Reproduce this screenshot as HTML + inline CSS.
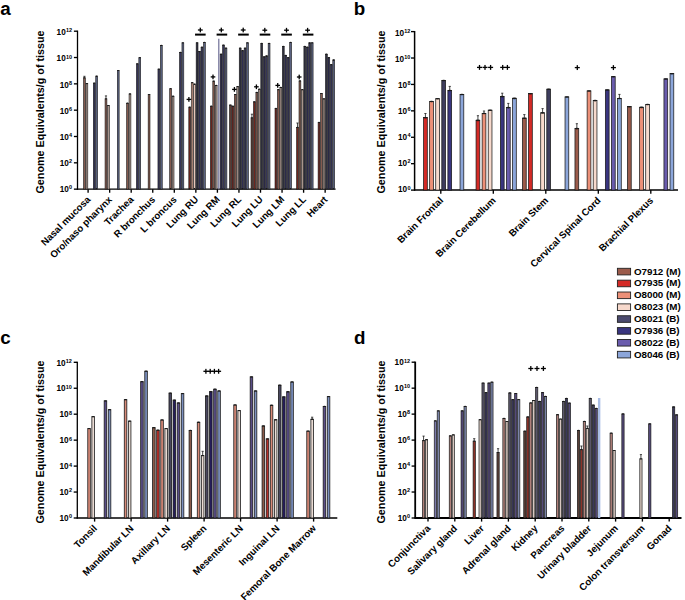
<!DOCTYPE html><html><head><meta charset="utf-8"><style>html,body{margin:0;padding:0;background:#fff;width:685px;height:600px;overflow:hidden}svg{display:block}text{font-family:"Liberation Sans",sans-serif;font-weight:bold;fill:#000}</style></head><body>
<svg width="685" height="600" viewBox="0 0 685 600">
<rect x="0" y="0" width="685" height="600" fill="#fff"/>
<text x="0.20" y="14.60" font-size="18.8" text-anchor="start" >a</text>
<text x="353.80" y="14.50" font-size="18.8" text-anchor="start" >b</text>
<text x="0.25" y="344.10" font-size="18.8" text-anchor="start" >c</text>
<text x="353.90" y="344.10" font-size="18.8" text-anchor="start" >d</text>
<line x1="77.50" y1="30.60" x2="77.50" y2="189.75" stroke="#000" stroke-width="1.3"/>
<line x1="76.90" y1="189.15" x2="335.60" y2="189.15" stroke="#000" stroke-width="1.3"/>
<line x1="73.90" y1="189.15" x2="77.50" y2="189.15" stroke="#000" stroke-width="1.35"/>
<text x="72.15" y="189.15" font-size="5.5" text-anchor="end">0</text>
<text x="68.79" y="192.05" font-size="8.2" text-anchor="end">10</text>
<line x1="73.90" y1="162.82" x2="77.50" y2="162.82" stroke="#000" stroke-width="1.35"/>
<text x="72.15" y="163.03" font-size="5.5" text-anchor="end">2</text>
<text x="68.79" y="165.93" font-size="8.2" text-anchor="end">10</text>
<line x1="73.90" y1="136.50" x2="77.50" y2="136.50" stroke="#000" stroke-width="1.35"/>
<text x="72.15" y="136.92" font-size="5.5" text-anchor="end">4</text>
<text x="68.79" y="139.82" font-size="8.2" text-anchor="end">10</text>
<line x1="73.90" y1="110.17" x2="77.50" y2="110.17" stroke="#000" stroke-width="1.35"/>
<text x="72.15" y="110.80" font-size="5.5" text-anchor="end">6</text>
<text x="68.79" y="113.70" font-size="8.2" text-anchor="end">10</text>
<line x1="73.90" y1="83.85" x2="77.50" y2="83.85" stroke="#000" stroke-width="1.35"/>
<text x="72.15" y="84.68" font-size="5.5" text-anchor="end">8</text>
<text x="68.79" y="87.58" font-size="8.2" text-anchor="end">10</text>
<line x1="73.90" y1="57.52" x2="77.50" y2="57.52" stroke="#000" stroke-width="1.35"/>
<text x="72.15" y="58.57" font-size="5.5" text-anchor="end">10</text>
<text x="65.73" y="61.47" font-size="8.2" text-anchor="end">10</text>
<line x1="73.90" y1="31.20" x2="77.50" y2="31.20" stroke="#000" stroke-width="1.35"/>
<text x="72.15" y="32.45" font-size="5.5" text-anchor="end">12</text>
<text x="65.73" y="35.35" font-size="8.2" text-anchor="end">10</text>
<line x1="88.10" y1="189.15" x2="88.10" y2="192.75" stroke="#000" stroke-width="1.35"/>
<line x1="109.65" y1="189.15" x2="109.65" y2="192.75" stroke="#000" stroke-width="1.35"/>
<line x1="131.20" y1="189.15" x2="131.20" y2="192.75" stroke="#000" stroke-width="1.35"/>
<line x1="152.75" y1="189.15" x2="152.75" y2="192.75" stroke="#000" stroke-width="1.35"/>
<line x1="174.30" y1="189.15" x2="174.30" y2="192.75" stroke="#000" stroke-width="1.35"/>
<line x1="195.85" y1="189.15" x2="195.85" y2="192.75" stroke="#000" stroke-width="1.35"/>
<line x1="217.40" y1="189.15" x2="217.40" y2="192.75" stroke="#000" stroke-width="1.35"/>
<line x1="238.95" y1="189.15" x2="238.95" y2="192.75" stroke="#000" stroke-width="1.35"/>
<line x1="260.50" y1="189.15" x2="260.50" y2="192.75" stroke="#000" stroke-width="1.35"/>
<line x1="282.05" y1="189.15" x2="282.05" y2="192.75" stroke="#000" stroke-width="1.35"/>
<line x1="303.60" y1="189.15" x2="303.60" y2="192.75" stroke="#000" stroke-width="1.35"/>
<line x1="325.15" y1="189.15" x2="325.15" y2="192.75" stroke="#000" stroke-width="1.35"/>
<text transform="translate(43.80,112.00) rotate(-90)" x="0" y="0" font-size="10.75" text-anchor="middle">Genome Equivalents/g of tissue</text>
<text transform="translate(91.10,200.15) rotate(-45)" x="0" y="0" font-size="9.7" text-anchor="end">Nasal mucosa</text>
<text transform="translate(112.65,200.15) rotate(-45)" x="0" y="0" font-size="9.7" text-anchor="end">Oro/naso pharynx</text>
<text transform="translate(134.20,200.15) rotate(-45)" x="0" y="0" font-size="9.7" text-anchor="end">Trachea</text>
<text transform="translate(155.75,200.15) rotate(-45)" x="0" y="0" font-size="9.7" text-anchor="end">R bronchus</text>
<text transform="translate(177.30,200.15) rotate(-45)" x="0" y="0" font-size="9.7" text-anchor="end">L broncus</text>
<text transform="translate(198.85,200.15) rotate(-45)" x="0" y="0" font-size="9.7" text-anchor="end">Lung RU</text>
<text transform="translate(220.40,200.15) rotate(-45)" x="0" y="0" font-size="9.7" text-anchor="end">Lung RM</text>
<text transform="translate(241.95,200.15) rotate(-45)" x="0" y="0" font-size="9.7" text-anchor="end">Lung RL</text>
<text transform="translate(263.50,200.15) rotate(-45)" x="0" y="0" font-size="9.7" text-anchor="end">Lung LU</text>
<text transform="translate(285.05,200.15) rotate(-45)" x="0" y="0" font-size="9.7" text-anchor="end">Lung LM</text>
<text transform="translate(306.60,200.15) rotate(-45)" x="0" y="0" font-size="9.7" text-anchor="end">Lung LL</text>
<text transform="translate(328.15,200.15) rotate(-45)" x="0" y="0" font-size="9.7" text-anchor="end">Heart</text>
<line x1="84.42" y1="76.30" x2="84.42" y2="77.50" stroke="#1a1a1a" stroke-width="0.8"/>
<line x1="83.33" y1="76.30" x2="85.52" y2="76.30" stroke="#1a1a1a" stroke-width="0.8"/>
<rect x="83.50" y="77.80" width="1.85" height="111.35" fill="#845a4e" stroke="#1a1a1a" stroke-width="0.6"/>
<rect x="83.25" y="77.20" width="2.35" height="1.20" rx="1.18" ry="0.60" fill="#1a1a1a"/>
<rect x="85.95" y="83.60" width="1.85" height="105.55" fill="#a8948c" stroke="#1a1a1a" stroke-width="0.6"/>
<rect x="85.70" y="83.00" width="2.35" height="1.20" rx="1.18" ry="0.60" fill="#1a1a1a"/>
<rect x="93.30" y="83.10" width="1.85" height="106.05" fill="#363558" stroke="#1a1a1a" stroke-width="0.6"/>
<rect x="93.05" y="82.50" width="2.35" height="1.20" rx="1.18" ry="0.60" fill="#1a1a1a"/>
<rect x="95.75" y="76.10" width="1.85" height="113.05" fill="#5a6280" stroke="#1a1a1a" stroke-width="0.6"/>
<rect x="95.50" y="75.50" width="2.35" height="1.20" rx="1.18" ry="0.60" fill="#1a1a1a"/>
<line x1="105.97" y1="95.90" x2="105.97" y2="98.50" stroke="#1a1a1a" stroke-width="0.8"/>
<line x1="104.88" y1="95.90" x2="107.07" y2="95.90" stroke="#1a1a1a" stroke-width="0.8"/>
<rect x="105.05" y="98.80" width="1.85" height="90.35" fill="#845a4e" stroke="#1a1a1a" stroke-width="0.6"/>
<rect x="104.80" y="98.20" width="2.35" height="1.20" rx="1.18" ry="0.60" fill="#1a1a1a"/>
<rect x="107.50" y="105.50" width="1.85" height="83.65" fill="#a8948c" stroke="#1a1a1a" stroke-width="0.6"/>
<rect x="107.25" y="104.90" width="2.35" height="1.20" rx="1.18" ry="0.60" fill="#1a1a1a"/>
<rect x="117.30" y="70.50" width="1.85" height="118.65" fill="#5a6280" stroke="#1a1a1a" stroke-width="0.6"/>
<rect x="117.05" y="69.90" width="2.35" height="1.20" rx="1.18" ry="0.60" fill="#1a1a1a"/>
<rect x="126.60" y="103.20" width="1.85" height="85.95" fill="#845a4e" stroke="#1a1a1a" stroke-width="0.6"/>
<rect x="126.35" y="102.60" width="2.35" height="1.20" rx="1.18" ry="0.60" fill="#1a1a1a"/>
<rect x="129.05" y="93.90" width="1.85" height="95.25" fill="#a8948c" stroke="#1a1a1a" stroke-width="0.6"/>
<rect x="128.80" y="93.30" width="2.35" height="1.20" rx="1.18" ry="0.60" fill="#1a1a1a"/>
<rect x="136.40" y="63.80" width="1.85" height="125.35" fill="#363558" stroke="#1a1a1a" stroke-width="0.6"/>
<rect x="136.15" y="63.20" width="2.35" height="1.20" rx="1.18" ry="0.60" fill="#1a1a1a"/>
<rect x="138.85" y="57.70" width="1.85" height="131.45" fill="#5a6280" stroke="#1a1a1a" stroke-width="0.6"/>
<rect x="138.60" y="57.10" width="2.35" height="1.20" rx="1.18" ry="0.60" fill="#1a1a1a"/>
<rect x="148.15" y="94.50" width="1.85" height="94.65" fill="#845a4e" stroke="#1a1a1a" stroke-width="0.6"/>
<rect x="147.90" y="93.90" width="2.35" height="1.20" rx="1.18" ry="0.60" fill="#1a1a1a"/>
<rect x="157.95" y="69.10" width="1.85" height="120.05" fill="#363558" stroke="#1a1a1a" stroke-width="0.6"/>
<rect x="157.70" y="68.50" width="2.35" height="1.20" rx="1.18" ry="0.60" fill="#1a1a1a"/>
<rect x="160.40" y="45.40" width="1.85" height="143.75" fill="#5a6280" stroke="#1a1a1a" stroke-width="0.6"/>
<rect x="160.15" y="44.80" width="2.35" height="1.20" rx="1.18" ry="0.60" fill="#1a1a1a"/>
<rect x="169.70" y="88.70" width="1.85" height="100.45" fill="#845a4e" stroke="#1a1a1a" stroke-width="0.6"/>
<rect x="169.45" y="88.10" width="2.35" height="1.20" rx="1.18" ry="0.60" fill="#1a1a1a"/>
<rect x="172.15" y="96.20" width="1.85" height="92.95" fill="#a8948c" stroke="#1a1a1a" stroke-width="0.6"/>
<rect x="171.90" y="95.60" width="2.35" height="1.20" rx="1.18" ry="0.60" fill="#1a1a1a"/>
<rect x="179.50" y="52.40" width="1.85" height="136.75" fill="#363558" stroke="#1a1a1a" stroke-width="0.6"/>
<rect x="179.25" y="51.80" width="2.35" height="1.20" rx="1.18" ry="0.60" fill="#1a1a1a"/>
<rect x="181.95" y="42.80" width="1.85" height="146.35" fill="#5a6280" stroke="#1a1a1a" stroke-width="0.6"/>
<rect x="181.70" y="42.20" width="2.35" height="1.20" rx="1.18" ry="0.60" fill="#1a1a1a"/>
<rect x="188.80" y="107.10" width="1.85" height="82.05" fill="#6e261e" stroke="#1a1a1a" stroke-width="0.6"/>
<rect x="188.55" y="106.50" width="2.35" height="1.20" rx="1.18" ry="0.60" fill="#1a1a1a"/>
<rect x="191.25" y="82.70" width="1.85" height="106.45" fill="#c89888" stroke="#1a1a1a" stroke-width="0.6"/>
<rect x="191.00" y="82.10" width="2.35" height="1.20" rx="1.18" ry="0.60" fill="#1a1a1a"/>
<rect x="193.70" y="84.10" width="1.85" height="105.05" fill="#e6c6ba" stroke="#1a1a1a" stroke-width="0.6"/>
<rect x="193.45" y="83.50" width="2.35" height="1.20" rx="1.18" ry="0.60" fill="#1a1a1a"/>
<rect x="196.15" y="42.80" width="1.85" height="146.35" fill="#303040" stroke="#1a1a1a" stroke-width="0.6"/>
<rect x="195.90" y="42.20" width="2.35" height="1.20" rx="1.18" ry="0.60" fill="#1a1a1a"/>
<rect x="198.60" y="51.60" width="1.85" height="137.55" fill="#2f2e52" stroke="#1a1a1a" stroke-width="0.6"/>
<rect x="198.35" y="51.00" width="2.35" height="1.20" rx="1.18" ry="0.60" fill="#1a1a1a"/>
<rect x="201.05" y="47.20" width="1.85" height="141.95" fill="#363558" stroke="#1a1a1a" stroke-width="0.6"/>
<rect x="200.80" y="46.60" width="2.35" height="1.20" rx="1.18" ry="0.60" fill="#1a1a1a"/>
<rect x="203.50" y="42.30" width="1.85" height="146.85" fill="#5a6280" stroke="#1a1a1a" stroke-width="0.6"/>
<rect x="203.25" y="41.70" width="2.35" height="1.20" rx="1.18" ry="0.60" fill="#1a1a1a"/>
<rect x="210.35" y="106.20" width="1.85" height="82.95" fill="#6e261e" stroke="#1a1a1a" stroke-width="0.6"/>
<rect x="210.10" y="105.60" width="2.35" height="1.20" rx="1.18" ry="0.60" fill="#1a1a1a"/>
<rect x="212.80" y="81.00" width="1.85" height="108.15" fill="#845a4e" stroke="#1a1a1a" stroke-width="0.6"/>
<rect x="212.55" y="80.40" width="2.35" height="1.20" rx="1.18" ry="0.60" fill="#1a1a1a"/>
<rect x="215.25" y="85.40" width="1.85" height="103.75" fill="#a8948c" stroke="#1a1a1a" stroke-width="0.6"/>
<rect x="215.00" y="84.80" width="2.35" height="1.20" rx="1.18" ry="0.60" fill="#1a1a1a"/>
<rect x="220.15" y="54.20" width="1.85" height="134.95" fill="#2f2e52" stroke="#1a1a1a" stroke-width="0.6"/>
<rect x="219.90" y="53.60" width="2.35" height="1.20" rx="1.18" ry="0.60" fill="#1a1a1a"/>
<rect x="222.60" y="45.10" width="1.85" height="144.05" fill="#363558" stroke="#1a1a1a" stroke-width="0.6"/>
<rect x="222.35" y="44.50" width="2.35" height="1.20" rx="1.18" ry="0.60" fill="#1a1a1a"/>
<rect x="225.05" y="48.10" width="1.85" height="141.05" fill="#5a6280" stroke="#1a1a1a" stroke-width="0.6"/>
<rect x="224.80" y="47.50" width="2.35" height="1.20" rx="1.18" ry="0.60" fill="#1a1a1a"/>
<rect x="229.45" y="105.00" width="1.85" height="84.15" fill="#5a3c34" stroke="#1a1a1a" stroke-width="0.6"/>
<rect x="229.20" y="104.40" width="2.35" height="1.20" rx="1.18" ry="0.60" fill="#1a1a1a"/>
<rect x="231.90" y="106.20" width="1.85" height="82.95" fill="#6e261e" stroke="#1a1a1a" stroke-width="0.6"/>
<rect x="231.65" y="105.60" width="2.35" height="1.20" rx="1.18" ry="0.60" fill="#1a1a1a"/>
<rect x="234.35" y="94.50" width="1.85" height="94.65" fill="#845a4e" stroke="#1a1a1a" stroke-width="0.6"/>
<rect x="234.10" y="93.90" width="2.35" height="1.20" rx="1.18" ry="0.60" fill="#1a1a1a"/>
<rect x="236.80" y="86.60" width="1.85" height="102.55" fill="#a8948c" stroke="#1a1a1a" stroke-width="0.6"/>
<rect x="236.55" y="86.00" width="2.35" height="1.20" rx="1.18" ry="0.60" fill="#1a1a1a"/>
<rect x="239.25" y="48.10" width="1.85" height="141.05" fill="#303040" stroke="#1a1a1a" stroke-width="0.6"/>
<rect x="239.00" y="47.50" width="2.35" height="1.20" rx="1.18" ry="0.60" fill="#1a1a1a"/>
<rect x="241.70" y="50.70" width="1.85" height="138.45" fill="#2f2e52" stroke="#1a1a1a" stroke-width="0.6"/>
<rect x="241.45" y="50.10" width="2.35" height="1.20" rx="1.18" ry="0.60" fill="#1a1a1a"/>
<rect x="244.15" y="48.10" width="1.85" height="141.05" fill="#363558" stroke="#1a1a1a" stroke-width="0.6"/>
<rect x="243.90" y="47.50" width="2.35" height="1.20" rx="1.18" ry="0.60" fill="#1a1a1a"/>
<rect x="246.60" y="42.80" width="1.85" height="146.35" fill="#5a6280" stroke="#1a1a1a" stroke-width="0.6"/>
<rect x="246.35" y="42.20" width="2.35" height="1.20" rx="1.18" ry="0.60" fill="#1a1a1a"/>
<line x1="251.92" y1="114.20" x2="251.92" y2="117.50" stroke="#1a1a1a" stroke-width="0.8"/>
<line x1="250.82" y1="114.20" x2="253.02" y2="114.20" stroke="#1a1a1a" stroke-width="0.8"/>
<rect x="251.00" y="117.80" width="1.85" height="71.35" fill="#5a3c34" stroke="#1a1a1a" stroke-width="0.6"/>
<rect x="250.75" y="117.20" width="2.35" height="1.20" rx="1.18" ry="0.60" fill="#1a1a1a"/>
<rect x="253.45" y="101.80" width="1.85" height="87.35" fill="#6e261e" stroke="#1a1a1a" stroke-width="0.6"/>
<rect x="253.20" y="101.20" width="2.35" height="1.20" rx="1.18" ry="0.60" fill="#1a1a1a"/>
<rect x="255.90" y="92.30" width="1.85" height="96.85" fill="#845a4e" stroke="#1a1a1a" stroke-width="0.6"/>
<rect x="255.65" y="91.70" width="2.35" height="1.20" rx="1.18" ry="0.60" fill="#1a1a1a"/>
<rect x="258.35" y="89.20" width="1.85" height="99.95" fill="#a8948c" stroke="#1a1a1a" stroke-width="0.6"/>
<rect x="258.10" y="88.60" width="2.35" height="1.20" rx="1.18" ry="0.60" fill="#1a1a1a"/>
<rect x="260.80" y="43.30" width="1.85" height="145.85" fill="#303040" stroke="#1a1a1a" stroke-width="0.6"/>
<rect x="260.55" y="42.70" width="2.35" height="1.20" rx="1.18" ry="0.60" fill="#1a1a1a"/>
<rect x="263.25" y="56.80" width="1.85" height="132.35" fill="#2f2e52" stroke="#1a1a1a" stroke-width="0.6"/>
<rect x="263.00" y="56.20" width="2.35" height="1.20" rx="1.18" ry="0.60" fill="#1a1a1a"/>
<rect x="265.70" y="55.90" width="1.85" height="133.25" fill="#363558" stroke="#1a1a1a" stroke-width="0.6"/>
<rect x="265.45" y="55.30" width="2.35" height="1.20" rx="1.18" ry="0.60" fill="#1a1a1a"/>
<rect x="268.15" y="43.30" width="1.85" height="145.85" fill="#5a6280" stroke="#1a1a1a" stroke-width="0.6"/>
<rect x="267.90" y="42.70" width="2.35" height="1.20" rx="1.18" ry="0.60" fill="#1a1a1a"/>
<rect x="275.00" y="108.30" width="1.85" height="80.85" fill="#6e261e" stroke="#1a1a1a" stroke-width="0.6"/>
<rect x="274.75" y="107.70" width="2.35" height="1.20" rx="1.18" ry="0.60" fill="#1a1a1a"/>
<rect x="277.45" y="89.70" width="1.85" height="99.45" fill="#845a4e" stroke="#1a1a1a" stroke-width="0.6"/>
<rect x="277.20" y="89.10" width="2.35" height="1.20" rx="1.18" ry="0.60" fill="#1a1a1a"/>
<rect x="279.90" y="87.40" width="1.85" height="101.75" fill="#a8948c" stroke="#1a1a1a" stroke-width="0.6"/>
<rect x="279.65" y="86.80" width="2.35" height="1.20" rx="1.18" ry="0.60" fill="#1a1a1a"/>
<rect x="282.35" y="46.30" width="1.85" height="142.85" fill="#303040" stroke="#1a1a1a" stroke-width="0.6"/>
<rect x="282.10" y="45.70" width="2.35" height="1.20" rx="1.18" ry="0.60" fill="#1a1a1a"/>
<rect x="284.80" y="55.40" width="1.85" height="133.75" fill="#2f2e52" stroke="#1a1a1a" stroke-width="0.6"/>
<rect x="284.55" y="54.80" width="2.35" height="1.20" rx="1.18" ry="0.60" fill="#1a1a1a"/>
<rect x="287.25" y="57.70" width="1.85" height="131.45" fill="#363558" stroke="#1a1a1a" stroke-width="0.6"/>
<rect x="287.00" y="57.10" width="2.35" height="1.20" rx="1.18" ry="0.60" fill="#1a1a1a"/>
<rect x="289.70" y="42.30" width="1.85" height="146.85" fill="#5a6280" stroke="#1a1a1a" stroke-width="0.6"/>
<rect x="289.45" y="41.70" width="2.35" height="1.20" rx="1.18" ry="0.60" fill="#1a1a1a"/>
<line x1="297.48" y1="123.00" x2="297.48" y2="127.00" stroke="#1a1a1a" stroke-width="0.8"/>
<line x1="296.38" y1="123.00" x2="298.58" y2="123.00" stroke="#1a1a1a" stroke-width="0.8"/>
<rect x="296.55" y="127.30" width="1.85" height="61.85" fill="#6e261e" stroke="#1a1a1a" stroke-width="0.6"/>
<rect x="296.30" y="126.70" width="2.35" height="1.20" rx="1.18" ry="0.60" fill="#1a1a1a"/>
<rect x="299.00" y="80.90" width="1.85" height="108.25" fill="#845a4e" stroke="#1a1a1a" stroke-width="0.6"/>
<rect x="298.75" y="80.30" width="2.35" height="1.20" rx="1.18" ry="0.60" fill="#1a1a1a"/>
<rect x="301.45" y="89.70" width="1.85" height="99.45" fill="#a8948c" stroke="#1a1a1a" stroke-width="0.6"/>
<rect x="301.20" y="89.10" width="2.35" height="1.20" rx="1.18" ry="0.60" fill="#1a1a1a"/>
<rect x="303.90" y="46.30" width="1.85" height="142.85" fill="#303040" stroke="#1a1a1a" stroke-width="0.6"/>
<rect x="303.65" y="45.70" width="2.35" height="1.20" rx="1.18" ry="0.60" fill="#1a1a1a"/>
<rect x="306.35" y="47.20" width="1.85" height="141.95" fill="#2f2e52" stroke="#1a1a1a" stroke-width="0.6"/>
<rect x="306.10" y="46.60" width="2.35" height="1.20" rx="1.18" ry="0.60" fill="#1a1a1a"/>
<rect x="308.80" y="42.80" width="1.85" height="146.35" fill="#363558" stroke="#1a1a1a" stroke-width="0.6"/>
<rect x="308.55" y="42.20" width="2.35" height="1.20" rx="1.18" ry="0.60" fill="#1a1a1a"/>
<rect x="311.25" y="42.80" width="1.85" height="146.35" fill="#5a6280" stroke="#1a1a1a" stroke-width="0.6"/>
<rect x="311.00" y="42.20" width="2.35" height="1.20" rx="1.18" ry="0.60" fill="#1a1a1a"/>
<rect x="318.10" y="122.30" width="1.85" height="66.85" fill="#6e261e" stroke="#1a1a1a" stroke-width="0.6"/>
<rect x="317.85" y="121.70" width="2.35" height="1.20" rx="1.18" ry="0.60" fill="#1a1a1a"/>
<rect x="320.55" y="93.50" width="1.85" height="95.65" fill="#845a4e" stroke="#1a1a1a" stroke-width="0.6"/>
<rect x="320.30" y="92.90" width="2.35" height="1.20" rx="1.18" ry="0.60" fill="#1a1a1a"/>
<rect x="323.00" y="98.80" width="1.85" height="90.35" fill="#a8948c" stroke="#1a1a1a" stroke-width="0.6"/>
<rect x="322.75" y="98.20" width="2.35" height="1.20" rx="1.18" ry="0.60" fill="#1a1a1a"/>
<rect x="325.45" y="54.20" width="1.85" height="134.95" fill="#303040" stroke="#1a1a1a" stroke-width="0.6"/>
<rect x="325.20" y="53.60" width="2.35" height="1.20" rx="1.18" ry="0.60" fill="#1a1a1a"/>
<rect x="327.90" y="57.70" width="1.85" height="131.45" fill="#2f2e52" stroke="#1a1a1a" stroke-width="0.6"/>
<rect x="327.65" y="57.10" width="2.35" height="1.20" rx="1.18" ry="0.60" fill="#1a1a1a"/>
<rect x="330.35" y="64.70" width="1.85" height="124.45" fill="#363558" stroke="#1a1a1a" stroke-width="0.6"/>
<rect x="330.10" y="64.10" width="2.35" height="1.20" rx="1.18" ry="0.60" fill="#1a1a1a"/>
<rect x="332.80" y="59.90" width="1.85" height="129.25" fill="#5a6280" stroke="#1a1a1a" stroke-width="0.6"/>
<rect x="332.55" y="59.30" width="2.35" height="1.20" rx="1.18" ry="0.60" fill="#1a1a1a"/>
<line x1="218.80" y1="38.7" x2="218.80" y2="189.2" stroke="#6e6e96" stroke-width="1.2"/>
<rect x="195.05" y="33.6" width="10.60" height="2.0" fill="#000"/>
<rect x="216.60" y="33.6" width="10.60" height="2.0" fill="#000"/>
<rect x="238.15" y="33.6" width="10.60" height="2.0" fill="#000"/>
<rect x="259.70" y="33.6" width="10.60" height="2.0" fill="#000"/>
<rect x="281.25" y="33.6" width="10.60" height="2.0" fill="#000"/>
<rect x="302.80" y="33.6" width="10.60" height="2.0" fill="#000"/>
<rect x="197.90" y="29.35" width="4.80" height="1.30" fill="#000"/>
<rect x="199.65" y="27.65" width="1.30" height="4.70" fill="#000"/>
<rect x="218.90" y="29.35" width="4.80" height="1.30" fill="#000"/>
<rect x="220.65" y="27.65" width="1.30" height="4.70" fill="#000"/>
<rect x="240.80" y="29.35" width="4.80" height="1.30" fill="#000"/>
<rect x="242.55" y="27.65" width="1.30" height="4.70" fill="#000"/>
<rect x="262.40" y="29.55" width="4.80" height="1.30" fill="#000"/>
<rect x="264.15" y="27.85" width="1.30" height="4.70" fill="#000"/>
<rect x="284.10" y="29.55" width="4.80" height="1.30" fill="#000"/>
<rect x="285.85" y="27.85" width="1.30" height="4.70" fill="#000"/>
<rect x="305.20" y="29.55" width="4.80" height="1.30" fill="#000"/>
<rect x="306.95" y="27.85" width="1.30" height="4.70" fill="#000"/>
<rect x="186.60" y="98.75" width="4.60" height="1.30" fill="#000"/>
<rect x="188.25" y="97.05" width="1.30" height="4.70" fill="#000"/>
<rect x="210.70" y="76.25" width="4.60" height="1.30" fill="#000"/>
<rect x="212.35" y="74.55" width="1.30" height="4.70" fill="#000"/>
<rect x="232.10" y="88.75" width="4.60" height="1.30" fill="#000"/>
<rect x="233.75" y="87.05" width="1.30" height="4.70" fill="#000"/>
<rect x="254.10" y="86.15" width="4.60" height="1.30" fill="#000"/>
<rect x="255.75" y="84.45" width="1.30" height="4.70" fill="#000"/>
<rect x="275.40" y="84.75" width="4.60" height="1.30" fill="#000"/>
<rect x="277.05" y="83.05" width="1.30" height="4.70" fill="#000"/>
<rect x="296.90" y="76.35" width="4.60" height="1.30" fill="#000"/>
<rect x="298.55" y="74.65" width="1.30" height="4.70" fill="#000"/>
<line x1="414.60" y1="31.00" x2="414.60" y2="190.70" stroke="#000" stroke-width="1.5"/>
<line x1="414.00" y1="190.10" x2="678.00" y2="190.10" stroke="#000" stroke-width="1.5"/>
<line x1="411.00" y1="190.10" x2="414.60" y2="190.10" stroke="#000" stroke-width="1.35"/>
<text x="410.45" y="189.50" font-size="5.5" text-anchor="end">0</text>
<text x="407.09" y="192.40" font-size="8.2" text-anchor="end">10</text>
<line x1="411.00" y1="163.68" x2="414.60" y2="163.68" stroke="#000" stroke-width="1.35"/>
<text x="410.45" y="163.38" font-size="5.5" text-anchor="end">2</text>
<text x="407.09" y="166.28" font-size="8.2" text-anchor="end">10</text>
<line x1="411.00" y1="137.27" x2="414.60" y2="137.27" stroke="#000" stroke-width="1.35"/>
<text x="410.45" y="137.25" font-size="5.5" text-anchor="end">4</text>
<text x="407.09" y="140.15" font-size="8.2" text-anchor="end">10</text>
<line x1="411.00" y1="110.85" x2="414.60" y2="110.85" stroke="#000" stroke-width="1.35"/>
<text x="410.45" y="111.12" font-size="5.5" text-anchor="end">6</text>
<text x="407.09" y="114.02" font-size="8.2" text-anchor="end">10</text>
<line x1="411.00" y1="84.43" x2="414.60" y2="84.43" stroke="#000" stroke-width="1.35"/>
<text x="410.45" y="85.00" font-size="5.5" text-anchor="end">8</text>
<text x="407.09" y="87.90" font-size="8.2" text-anchor="end">10</text>
<line x1="411.00" y1="58.02" x2="414.60" y2="58.02" stroke="#000" stroke-width="1.35"/>
<text x="410.45" y="58.87" font-size="5.5" text-anchor="end">10</text>
<text x="404.03" y="61.77" font-size="8.2" text-anchor="end">10</text>
<line x1="411.00" y1="31.60" x2="414.60" y2="31.60" stroke="#000" stroke-width="1.35"/>
<text x="410.45" y="32.75" font-size="5.5" text-anchor="end">12</text>
<text x="404.03" y="35.65" font-size="8.2" text-anchor="end">10</text>
<line x1="440.80" y1="190.10" x2="440.80" y2="193.70" stroke="#000" stroke-width="1.35"/>
<line x1="493.30" y1="190.10" x2="493.30" y2="193.70" stroke="#000" stroke-width="1.35"/>
<line x1="545.80" y1="190.10" x2="545.80" y2="193.70" stroke="#000" stroke-width="1.35"/>
<line x1="598.30" y1="190.10" x2="598.30" y2="193.70" stroke="#000" stroke-width="1.35"/>
<line x1="650.80" y1="190.10" x2="650.80" y2="193.70" stroke="#000" stroke-width="1.35"/>
<text transform="translate(384.60,112.00) rotate(-90)" x="0" y="0" font-size="10.75" text-anchor="middle">Genome Equivalents/g of tissue</text>
<text transform="translate(443.80,201.10) rotate(-45)" x="0" y="0" font-size="9.7" text-anchor="end">Brain Frontal</text>
<text transform="translate(496.30,201.10) rotate(-45)" x="0" y="0" font-size="9.7" text-anchor="end">Brain Cerebellum</text>
<text transform="translate(548.80,201.10) rotate(-45)" x="0" y="0" font-size="9.7" text-anchor="end">Brain Stem</text>
<text transform="translate(601.30,201.10) rotate(-45)" x="0" y="0" font-size="9.7" text-anchor="end">Cervical Spinal Cord</text>
<text transform="translate(653.80,201.10) rotate(-45)" x="0" y="0" font-size="9.7" text-anchor="end">Brachial Plexus</text>
<line x1="425.43" y1="113.50" x2="425.43" y2="117.20" stroke="#1a1a1a" stroke-width="0.8"/>
<line x1="424.33" y1="113.50" x2="426.53" y2="113.50" stroke="#1a1a1a" stroke-width="0.8"/>
<rect x="423.56" y="117.58" width="3.75" height="72.52" fill="#d42a26" stroke="#1a1a1a" stroke-width="0.75"/>
<rect x="423.23" y="116.90" width="4.40" height="1.60" rx="2.20" ry="0.80" fill="#1a1a1a"/>
<rect x="429.64" y="101.38" width="3.75" height="88.72" fill="#ec9078" stroke="#1a1a1a" stroke-width="0.75"/>
<rect x="429.31" y="100.70" width="4.40" height="1.60" rx="2.20" ry="0.80" fill="#1a1a1a"/>
<rect x="435.72" y="98.67" width="3.75" height="91.42" fill="#f7d9cc" stroke="#1a1a1a" stroke-width="0.75"/>
<rect x="435.39" y="98.00" width="4.40" height="1.60" rx="2.20" ry="0.80" fill="#1a1a1a"/>
<rect x="441.80" y="80.38" width="3.75" height="109.72" fill="#3e3d5e" stroke="#1a1a1a" stroke-width="0.75"/>
<rect x="441.47" y="79.70" width="4.40" height="1.60" rx="2.20" ry="0.80" fill="#1a1a1a"/>
<line x1="449.75" y1="86.40" x2="449.75" y2="90.00" stroke="#1a1a1a" stroke-width="0.8"/>
<line x1="448.65" y1="86.40" x2="450.85" y2="86.40" stroke="#1a1a1a" stroke-width="0.8"/>
<rect x="447.88" y="90.38" width="3.75" height="99.72" fill="#39357f" stroke="#1a1a1a" stroke-width="0.75"/>
<rect x="447.55" y="89.70" width="4.40" height="1.60" rx="2.20" ry="0.80" fill="#1a1a1a"/>
<rect x="460.04" y="94.38" width="3.75" height="95.72" fill="#8ca6da" stroke="#1a1a1a" stroke-width="0.75"/>
<rect x="459.71" y="93.70" width="4.40" height="1.60" rx="2.20" ry="0.80" fill="#1a1a1a"/>
<line x1="477.93" y1="115.70" x2="477.93" y2="119.90" stroke="#1a1a1a" stroke-width="0.8"/>
<line x1="476.83" y1="115.70" x2="479.03" y2="115.70" stroke="#1a1a1a" stroke-width="0.8"/>
<rect x="476.06" y="120.28" width="3.75" height="69.82" fill="#d42a26" stroke="#1a1a1a" stroke-width="0.75"/>
<rect x="475.73" y="119.60" width="4.40" height="1.60" rx="2.20" ry="0.80" fill="#1a1a1a"/>
<line x1="484.01" y1="111.00" x2="484.01" y2="113.00" stroke="#1a1a1a" stroke-width="0.8"/>
<line x1="482.91" y1="111.00" x2="485.11" y2="111.00" stroke="#1a1a1a" stroke-width="0.8"/>
<rect x="482.14" y="113.38" width="3.75" height="76.72" fill="#ec9078" stroke="#1a1a1a" stroke-width="0.75"/>
<rect x="481.81" y="112.70" width="4.40" height="1.60" rx="2.20" ry="0.80" fill="#1a1a1a"/>
<rect x="488.22" y="110.17" width="3.75" height="79.92" fill="#f7d9cc" stroke="#1a1a1a" stroke-width="0.75"/>
<rect x="487.89" y="109.50" width="4.40" height="1.60" rx="2.20" ry="0.80" fill="#1a1a1a"/>
<line x1="502.25" y1="93.20" x2="502.25" y2="96.10" stroke="#1a1a1a" stroke-width="0.8"/>
<line x1="501.15" y1="93.20" x2="503.35" y2="93.20" stroke="#1a1a1a" stroke-width="0.8"/>
<rect x="500.38" y="96.47" width="3.75" height="93.62" fill="#39357f" stroke="#1a1a1a" stroke-width="0.75"/>
<rect x="500.05" y="95.80" width="4.40" height="1.60" rx="2.20" ry="0.80" fill="#1a1a1a"/>
<line x1="508.33" y1="103.40" x2="508.33" y2="107.10" stroke="#1a1a1a" stroke-width="0.8"/>
<line x1="507.23" y1="103.40" x2="509.43" y2="103.40" stroke="#1a1a1a" stroke-width="0.8"/>
<rect x="506.46" y="107.47" width="3.75" height="82.62" fill="#6a5cad" stroke="#1a1a1a" stroke-width="0.75"/>
<rect x="506.13" y="106.80" width="4.40" height="1.60" rx="2.20" ry="0.80" fill="#1a1a1a"/>
<rect x="512.54" y="98.28" width="3.75" height="91.82" fill="#8ca6da" stroke="#1a1a1a" stroke-width="0.75"/>
<rect x="512.21" y="97.60" width="4.40" height="1.60" rx="2.20" ry="0.80" fill="#1a1a1a"/>
<line x1="524.35" y1="114.60" x2="524.35" y2="117.70" stroke="#1a1a1a" stroke-width="0.8"/>
<line x1="523.25" y1="114.60" x2="525.45" y2="114.60" stroke="#1a1a1a" stroke-width="0.8"/>
<rect x="522.47" y="118.08" width="3.75" height="72.02" fill="#9b5b4b" stroke="#1a1a1a" stroke-width="0.75"/>
<rect x="522.15" y="117.40" width="4.40" height="1.60" rx="2.20" ry="0.80" fill="#1a1a1a"/>
<rect x="528.55" y="93.58" width="3.75" height="96.52" fill="#d42a26" stroke="#1a1a1a" stroke-width="0.75"/>
<rect x="528.23" y="92.90" width="4.40" height="1.60" rx="2.20" ry="0.80" fill="#1a1a1a"/>
<line x1="542.59" y1="108.60" x2="542.59" y2="112.40" stroke="#1a1a1a" stroke-width="0.8"/>
<line x1="541.49" y1="108.60" x2="543.69" y2="108.60" stroke="#1a1a1a" stroke-width="0.8"/>
<rect x="540.71" y="112.78" width="3.75" height="77.32" fill="#f7d9cc" stroke="#1a1a1a" stroke-width="0.75"/>
<rect x="540.39" y="112.10" width="4.40" height="1.60" rx="2.20" ry="0.80" fill="#1a1a1a"/>
<rect x="546.79" y="89.17" width="3.75" height="100.92" fill="#3e3d5e" stroke="#1a1a1a" stroke-width="0.75"/>
<rect x="546.47" y="88.50" width="4.40" height="1.60" rx="2.20" ry="0.80" fill="#1a1a1a"/>
<rect x="565.03" y="96.88" width="3.75" height="93.22" fill="#8ca6da" stroke="#1a1a1a" stroke-width="0.75"/>
<rect x="564.71" y="96.20" width="4.40" height="1.60" rx="2.20" ry="0.80" fill="#1a1a1a"/>
<line x1="576.85" y1="123.70" x2="576.85" y2="128.10" stroke="#1a1a1a" stroke-width="0.8"/>
<line x1="575.75" y1="123.70" x2="577.95" y2="123.70" stroke="#1a1a1a" stroke-width="0.8"/>
<rect x="574.97" y="128.47" width="3.75" height="61.62" fill="#9b5b4b" stroke="#1a1a1a" stroke-width="0.75"/>
<rect x="574.65" y="127.80" width="4.40" height="1.60" rx="2.20" ry="0.80" fill="#1a1a1a"/>
<rect x="587.13" y="90.88" width="3.75" height="99.22" fill="#ec9078" stroke="#1a1a1a" stroke-width="0.75"/>
<rect x="586.81" y="90.20" width="4.40" height="1.60" rx="2.20" ry="0.80" fill="#1a1a1a"/>
<rect x="593.21" y="100.47" width="3.75" height="89.62" fill="#f7d9cc" stroke="#1a1a1a" stroke-width="0.75"/>
<rect x="592.89" y="99.80" width="4.40" height="1.60" rx="2.20" ry="0.80" fill="#1a1a1a"/>
<rect x="605.37" y="89.88" width="3.75" height="100.22" fill="#39357f" stroke="#1a1a1a" stroke-width="0.75"/>
<rect x="605.05" y="89.20" width="4.40" height="1.60" rx="2.20" ry="0.80" fill="#1a1a1a"/>
<rect x="611.45" y="76.67" width="3.75" height="113.42" fill="#6a5cad" stroke="#1a1a1a" stroke-width="0.75"/>
<rect x="611.13" y="76.00" width="4.40" height="1.60" rx="2.20" ry="0.80" fill="#1a1a1a"/>
<line x1="619.41" y1="94.40" x2="619.41" y2="98.00" stroke="#1a1a1a" stroke-width="0.8"/>
<line x1="618.31" y1="94.40" x2="620.51" y2="94.40" stroke="#1a1a1a" stroke-width="0.8"/>
<rect x="617.53" y="98.38" width="3.75" height="91.72" fill="#8ca6da" stroke="#1a1a1a" stroke-width="0.75"/>
<rect x="617.21" y="97.70" width="4.40" height="1.60" rx="2.20" ry="0.80" fill="#1a1a1a"/>
<rect x="627.47" y="106.58" width="3.75" height="83.52" fill="#9b5b4b" stroke="#1a1a1a" stroke-width="0.75"/>
<rect x="627.15" y="105.90" width="4.40" height="1.60" rx="2.20" ry="0.80" fill="#1a1a1a"/>
<rect x="639.63" y="107.28" width="3.75" height="82.82" fill="#ec9078" stroke="#1a1a1a" stroke-width="0.75"/>
<rect x="639.31" y="106.60" width="4.40" height="1.60" rx="2.20" ry="0.80" fill="#1a1a1a"/>
<rect x="645.71" y="104.38" width="3.75" height="85.72" fill="#f7d9cc" stroke="#1a1a1a" stroke-width="0.75"/>
<rect x="645.39" y="103.70" width="4.40" height="1.60" rx="2.20" ry="0.80" fill="#1a1a1a"/>
<rect x="663.95" y="78.88" width="3.75" height="111.22" fill="#6a5cad" stroke="#1a1a1a" stroke-width="0.75"/>
<rect x="663.63" y="78.20" width="4.40" height="1.60" rx="2.20" ry="0.80" fill="#1a1a1a"/>
<rect x="670.03" y="73.58" width="3.75" height="116.52" fill="#8ca6da" stroke="#1a1a1a" stroke-width="0.75"/>
<rect x="669.71" y="72.90" width="4.40" height="1.60" rx="2.20" ry="0.80" fill="#1a1a1a"/>
<rect x="477.00" y="66.75" width="5.00" height="1.30" fill="#000"/>
<rect x="478.85" y="64.95" width="1.30" height="4.90" fill="#000"/>
<rect x="482.50" y="66.75" width="5.00" height="1.30" fill="#000"/>
<rect x="484.35" y="64.95" width="1.30" height="4.90" fill="#000"/>
<rect x="488.10" y="66.75" width="5.00" height="1.30" fill="#000"/>
<rect x="489.95" y="64.95" width="1.30" height="4.90" fill="#000"/>
<rect x="500.20" y="66.75" width="5.00" height="1.30" fill="#000"/>
<rect x="502.05" y="64.95" width="1.30" height="4.90" fill="#000"/>
<rect x="504.90" y="66.75" width="5.00" height="1.30" fill="#000"/>
<rect x="506.75" y="64.95" width="1.30" height="4.90" fill="#000"/>
<rect x="574.80" y="66.95" width="5.00" height="1.30" fill="#000"/>
<rect x="576.65" y="65.15" width="1.30" height="4.90" fill="#000"/>
<rect x="610.90" y="66.95" width="5.00" height="1.30" fill="#000"/>
<rect x="612.75" y="65.15" width="1.30" height="4.90" fill="#000"/>
<line x1="77.30" y1="361.70" x2="77.30" y2="518.60" stroke="#000" stroke-width="1.3"/>
<line x1="76.70" y1="518.00" x2="337.30" y2="518.00" stroke="#000" stroke-width="1.3"/>
<line x1="73.70" y1="518.00" x2="77.30" y2="518.00" stroke="#000" stroke-width="1.35"/>
<text x="71.95" y="518.45" font-size="5.5" text-anchor="end">0</text>
<text x="68.59" y="521.35" font-size="8.2" text-anchor="end">10</text>
<line x1="73.70" y1="492.05" x2="77.30" y2="492.05" stroke="#000" stroke-width="1.35"/>
<text x="71.95" y="492.48" font-size="5.5" text-anchor="end">2</text>
<text x="68.59" y="495.38" font-size="8.2" text-anchor="end">10</text>
<line x1="73.70" y1="466.10" x2="77.30" y2="466.10" stroke="#000" stroke-width="1.35"/>
<text x="71.95" y="466.50" font-size="5.5" text-anchor="end">4</text>
<text x="68.59" y="469.40" font-size="8.2" text-anchor="end">10</text>
<line x1="73.70" y1="440.15" x2="77.30" y2="440.15" stroke="#000" stroke-width="1.35"/>
<text x="71.95" y="440.52" font-size="5.5" text-anchor="end">6</text>
<text x="68.59" y="443.42" font-size="8.2" text-anchor="end">10</text>
<line x1="73.70" y1="414.20" x2="77.30" y2="414.20" stroke="#000" stroke-width="1.35"/>
<text x="71.95" y="414.55" font-size="5.5" text-anchor="end">8</text>
<text x="68.59" y="417.45" font-size="8.2" text-anchor="end">10</text>
<line x1="73.70" y1="388.25" x2="77.30" y2="388.25" stroke="#000" stroke-width="1.35"/>
<text x="71.95" y="388.58" font-size="5.5" text-anchor="end">10</text>
<text x="65.53" y="391.48" font-size="8.2" text-anchor="end">10</text>
<line x1="73.70" y1="362.30" x2="77.30" y2="362.30" stroke="#000" stroke-width="1.35"/>
<text x="71.95" y="362.60" font-size="5.5" text-anchor="end">12</text>
<text x="65.53" y="365.50" font-size="8.2" text-anchor="end">10</text>
<line x1="94.60" y1="518.00" x2="94.60" y2="521.60" stroke="#000" stroke-width="1.35"/>
<line x1="131.10" y1="518.00" x2="131.10" y2="521.60" stroke="#000" stroke-width="1.35"/>
<line x1="167.60" y1="518.00" x2="167.60" y2="521.60" stroke="#000" stroke-width="1.35"/>
<line x1="204.10" y1="518.00" x2="204.10" y2="521.60" stroke="#000" stroke-width="1.35"/>
<line x1="240.60" y1="518.00" x2="240.60" y2="521.60" stroke="#000" stroke-width="1.35"/>
<line x1="277.10" y1="518.00" x2="277.10" y2="521.60" stroke="#000" stroke-width="1.35"/>
<line x1="313.60" y1="518.00" x2="313.60" y2="521.60" stroke="#000" stroke-width="1.35"/>
<text transform="translate(43.80,442.00) rotate(-90)" x="0" y="0" font-size="10.75" text-anchor="middle">Genome Equivalents/g of tissue</text>
<text transform="translate(97.60,529.00) rotate(-45)" x="0" y="0" font-size="9.7" text-anchor="end">Tonsil</text>
<text transform="translate(134.10,529.00) rotate(-45)" x="0" y="0" font-size="9.7" text-anchor="end">Mandibular LN</text>
<text transform="translate(170.60,529.00) rotate(-45)" x="0" y="0" font-size="9.7" text-anchor="end">Axillary LN</text>
<text transform="translate(207.10,529.00) rotate(-45)" x="0" y="0" font-size="9.7" text-anchor="end">Spleen</text>
<text transform="translate(243.60,529.00) rotate(-45)" x="0" y="0" font-size="9.7" text-anchor="end">Mesenteric LN</text>
<text transform="translate(280.10,529.00) rotate(-45)" x="0" y="0" font-size="9.7" text-anchor="end">Inguinal LN</text>
<text transform="translate(316.60,529.00) rotate(-45)" x="0" y="0" font-size="9.7" text-anchor="end">Femoral Bone Marrow</text>
<rect x="87.78" y="428.60" width="2.55" height="89.40" fill="#d88a78" stroke="#1a1a1a" stroke-width="0.8"/>
<rect x="87.43" y="427.90" width="3.25" height="1.30" rx="1.62" ry="0.65" fill="#1a1a1a"/>
<rect x="91.88" y="416.70" width="2.55" height="101.30" fill="#eadcd4" stroke="#1a1a1a" stroke-width="0.8"/>
<rect x="91.53" y="416.00" width="3.25" height="1.30" rx="1.62" ry="0.65" fill="#1a1a1a"/>
<rect x="104.18" y="400.90" width="2.55" height="117.10" fill="#5a4e88" stroke="#1a1a1a" stroke-width="0.8"/>
<rect x="103.83" y="400.20" width="3.25" height="1.30" rx="1.62" ry="0.65" fill="#1a1a1a"/>
<rect x="108.28" y="409.70" width="2.55" height="108.30" fill="#7c90c0" stroke="#1a1a1a" stroke-width="0.8"/>
<rect x="107.93" y="409.00" width="3.25" height="1.30" rx="1.62" ry="0.65" fill="#1a1a1a"/>
<rect x="124.28" y="399.70" width="2.55" height="118.30" fill="#d88a78" stroke="#1a1a1a" stroke-width="0.8"/>
<rect x="123.93" y="399.00" width="3.25" height="1.30" rx="1.62" ry="0.65" fill="#1a1a1a"/>
<rect x="128.38" y="421.10" width="2.55" height="96.90" fill="#eadcd4" stroke="#1a1a1a" stroke-width="0.8"/>
<rect x="128.03" y="420.40" width="3.25" height="1.30" rx="1.62" ry="0.65" fill="#1a1a1a"/>
<rect x="140.68" y="381.70" width="2.55" height="136.30" fill="#5a4e88" stroke="#1a1a1a" stroke-width="0.8"/>
<rect x="140.33" y="381.00" width="3.25" height="1.30" rx="1.62" ry="0.65" fill="#1a1a1a"/>
<rect x="144.78" y="371.20" width="2.55" height="146.80" fill="#7c90c0" stroke="#1a1a1a" stroke-width="0.8"/>
<rect x="144.43" y="370.50" width="3.25" height="1.30" rx="1.62" ry="0.65" fill="#1a1a1a"/>
<rect x="152.58" y="427.70" width="2.55" height="90.30" fill="#8a5a4a" stroke="#1a1a1a" stroke-width="0.8"/>
<rect x="152.23" y="427.00" width="3.25" height="1.30" rx="1.62" ry="0.65" fill="#1a1a1a"/>
<rect x="156.68" y="430.20" width="2.55" height="87.80" fill="#b8302a" stroke="#1a1a1a" stroke-width="0.8"/>
<rect x="156.33" y="429.50" width="3.25" height="1.30" rx="1.62" ry="0.65" fill="#1a1a1a"/>
<rect x="160.78" y="420.00" width="2.55" height="98.00" fill="#d88a78" stroke="#1a1a1a" stroke-width="0.8"/>
<rect x="160.43" y="419.30" width="3.25" height="1.30" rx="1.62" ry="0.65" fill="#1a1a1a"/>
<rect x="164.88" y="428.60" width="2.55" height="89.40" fill="#eadcd4" stroke="#1a1a1a" stroke-width="0.8"/>
<rect x="164.53" y="427.90" width="3.25" height="1.30" rx="1.62" ry="0.65" fill="#1a1a1a"/>
<rect x="168.98" y="393.10" width="2.55" height="124.90" fill="#4a4860" stroke="#1a1a1a" stroke-width="0.8"/>
<rect x="168.63" y="392.40" width="3.25" height="1.30" rx="1.62" ry="0.65" fill="#1a1a1a"/>
<rect x="173.08" y="400.10" width="2.55" height="117.90" fill="#251c5c" stroke="#1a1a1a" stroke-width="0.8"/>
<rect x="172.73" y="399.40" width="3.25" height="1.30" rx="1.62" ry="0.65" fill="#1a1a1a"/>
<rect x="177.18" y="403.00" width="2.55" height="115.00" fill="#5a4e88" stroke="#1a1a1a" stroke-width="0.8"/>
<rect x="176.83" y="402.30" width="3.25" height="1.30" rx="1.62" ry="0.65" fill="#1a1a1a"/>
<rect x="181.28" y="393.60" width="2.55" height="124.40" fill="#7c90c0" stroke="#1a1a1a" stroke-width="0.8"/>
<rect x="180.93" y="392.90" width="3.25" height="1.30" rx="1.62" ry="0.65" fill="#1a1a1a"/>
<rect x="189.08" y="430.40" width="2.55" height="87.60" fill="#8a5a4a" stroke="#1a1a1a" stroke-width="0.8"/>
<rect x="188.73" y="429.70" width="3.25" height="1.30" rx="1.62" ry="0.65" fill="#1a1a1a"/>
<rect x="197.28" y="422.30" width="2.55" height="95.70" fill="#d88a78" stroke="#1a1a1a" stroke-width="0.8"/>
<rect x="196.93" y="421.60" width="3.25" height="1.30" rx="1.62" ry="0.65" fill="#1a1a1a"/>
<line x1="202.66" y1="451.30" x2="202.66" y2="455.20" stroke="#1a1a1a" stroke-width="0.8"/>
<line x1="201.56" y1="451.30" x2="203.76" y2="451.30" stroke="#1a1a1a" stroke-width="0.8"/>
<rect x="201.38" y="455.60" width="2.55" height="62.40" fill="#eadcd4" stroke="#1a1a1a" stroke-width="0.8"/>
<rect x="201.03" y="454.90" width="3.25" height="1.30" rx="1.62" ry="0.65" fill="#1a1a1a"/>
<rect x="205.48" y="396.00" width="2.55" height="122.00" fill="#4a4860" stroke="#1a1a1a" stroke-width="0.8"/>
<rect x="205.13" y="395.30" width="3.25" height="1.30" rx="1.62" ry="0.65" fill="#1a1a1a"/>
<rect x="209.58" y="391.70" width="2.55" height="126.30" fill="#251c5c" stroke="#1a1a1a" stroke-width="0.8"/>
<rect x="209.23" y="391.00" width="3.25" height="1.30" rx="1.62" ry="0.65" fill="#1a1a1a"/>
<rect x="213.68" y="389.20" width="2.55" height="128.80" fill="#5a4e88" stroke="#1a1a1a" stroke-width="0.8"/>
<rect x="213.33" y="388.50" width="3.25" height="1.30" rx="1.62" ry="0.65" fill="#1a1a1a"/>
<rect x="217.78" y="391.00" width="2.55" height="127.00" fill="#7c90c0" stroke="#1a1a1a" stroke-width="0.8"/>
<rect x="217.43" y="390.30" width="3.25" height="1.30" rx="1.62" ry="0.65" fill="#1a1a1a"/>
<rect x="233.78" y="405.00" width="2.55" height="113.00" fill="#d88a78" stroke="#1a1a1a" stroke-width="0.8"/>
<rect x="233.43" y="404.30" width="3.25" height="1.30" rx="1.62" ry="0.65" fill="#1a1a1a"/>
<rect x="237.88" y="410.60" width="2.55" height="107.40" fill="#eadcd4" stroke="#1a1a1a" stroke-width="0.8"/>
<rect x="237.53" y="409.90" width="3.25" height="1.30" rx="1.62" ry="0.65" fill="#1a1a1a"/>
<rect x="250.18" y="376.90" width="2.55" height="141.10" fill="#5a4e88" stroke="#1a1a1a" stroke-width="0.8"/>
<rect x="249.83" y="376.20" width="3.25" height="1.30" rx="1.62" ry="0.65" fill="#1a1a1a"/>
<rect x="254.28" y="391.00" width="2.55" height="127.00" fill="#7c90c0" stroke="#1a1a1a" stroke-width="0.8"/>
<rect x="253.93" y="390.30" width="3.25" height="1.30" rx="1.62" ry="0.65" fill="#1a1a1a"/>
<rect x="262.08" y="426.00" width="2.55" height="92.00" fill="#8a5a4a" stroke="#1a1a1a" stroke-width="0.8"/>
<rect x="261.73" y="425.30" width="3.25" height="1.30" rx="1.62" ry="0.65" fill="#1a1a1a"/>
<rect x="266.18" y="438.90" width="2.55" height="79.10" fill="#b8302a" stroke="#1a1a1a" stroke-width="0.8"/>
<rect x="265.83" y="438.20" width="3.25" height="1.30" rx="1.62" ry="0.65" fill="#1a1a1a"/>
<rect x="270.28" y="405.30" width="2.55" height="112.70" fill="#d88a78" stroke="#1a1a1a" stroke-width="0.8"/>
<rect x="269.93" y="404.60" width="3.25" height="1.30" rx="1.62" ry="0.65" fill="#1a1a1a"/>
<rect x="274.38" y="419.80" width="2.55" height="98.20" fill="#eadcd4" stroke="#1a1a1a" stroke-width="0.8"/>
<rect x="274.03" y="419.10" width="3.25" height="1.30" rx="1.62" ry="0.65" fill="#1a1a1a"/>
<rect x="278.48" y="385.20" width="2.55" height="132.80" fill="#4a4860" stroke="#1a1a1a" stroke-width="0.8"/>
<rect x="278.13" y="384.50" width="3.25" height="1.30" rx="1.62" ry="0.65" fill="#1a1a1a"/>
<rect x="282.58" y="396.90" width="2.55" height="121.10" fill="#251c5c" stroke="#1a1a1a" stroke-width="0.8"/>
<rect x="282.23" y="396.20" width="3.25" height="1.30" rx="1.62" ry="0.65" fill="#1a1a1a"/>
<rect x="286.68" y="391.80" width="2.55" height="126.20" fill="#5a4e88" stroke="#1a1a1a" stroke-width="0.8"/>
<rect x="286.33" y="391.10" width="3.25" height="1.30" rx="1.62" ry="0.65" fill="#1a1a1a"/>
<rect x="290.78" y="382.00" width="2.55" height="136.00" fill="#7c90c0" stroke="#1a1a1a" stroke-width="0.8"/>
<rect x="290.43" y="381.30" width="3.25" height="1.30" rx="1.62" ry="0.65" fill="#1a1a1a"/>
<rect x="306.78" y="431.10" width="2.55" height="86.90" fill="#d88a78" stroke="#1a1a1a" stroke-width="0.8"/>
<rect x="306.43" y="430.40" width="3.25" height="1.30" rx="1.62" ry="0.65" fill="#1a1a1a"/>
<line x1="312.16" y1="417.20" x2="312.16" y2="418.90" stroke="#1a1a1a" stroke-width="0.8"/>
<line x1="311.06" y1="417.20" x2="313.26" y2="417.20" stroke="#1a1a1a" stroke-width="0.8"/>
<rect x="310.88" y="419.30" width="2.55" height="98.70" fill="#eadcd4" stroke="#1a1a1a" stroke-width="0.8"/>
<rect x="310.53" y="418.60" width="3.25" height="1.30" rx="1.62" ry="0.65" fill="#1a1a1a"/>
<rect x="323.18" y="406.50" width="2.55" height="111.50" fill="#5a4e88" stroke="#1a1a1a" stroke-width="0.8"/>
<rect x="322.83" y="405.80" width="3.25" height="1.30" rx="1.62" ry="0.65" fill="#1a1a1a"/>
<rect x="327.28" y="396.60" width="2.55" height="121.40" fill="#7c90c0" stroke="#1a1a1a" stroke-width="0.8"/>
<rect x="326.93" y="395.90" width="3.25" height="1.30" rx="1.62" ry="0.65" fill="#1a1a1a"/>
<rect x="203.40" y="370.65" width="5.00" height="1.30" fill="#000"/>
<rect x="205.25" y="368.85" width="1.30" height="4.90" fill="#000"/>
<rect x="207.70" y="370.65" width="5.00" height="1.30" fill="#000"/>
<rect x="209.55" y="368.85" width="1.30" height="4.90" fill="#000"/>
<rect x="211.90" y="370.65" width="5.00" height="1.30" fill="#000"/>
<rect x="213.75" y="368.85" width="1.30" height="4.90" fill="#000"/>
<rect x="216.10" y="370.65" width="5.00" height="1.30" fill="#000"/>
<rect x="217.95" y="368.85" width="1.30" height="4.90" fill="#000"/>
<line x1="415.20" y1="361.60" x2="415.20" y2="518.60" stroke="#000" stroke-width="1.8"/>
<line x1="414.60" y1="518.00" x2="681.50" y2="518.00" stroke="#000" stroke-width="1.8"/>
<line x1="411.60" y1="518.00" x2="415.20" y2="518.00" stroke="#000" stroke-width="1.35"/>
<text x="410.15" y="518.45" font-size="5.5" text-anchor="end">0</text>
<text x="406.79" y="521.35" font-size="8.2" text-anchor="end">10</text>
<line x1="411.60" y1="492.03" x2="415.20" y2="492.03" stroke="#000" stroke-width="1.35"/>
<text x="410.15" y="492.46" font-size="5.5" text-anchor="end">2</text>
<text x="406.79" y="495.36" font-size="8.2" text-anchor="end">10</text>
<line x1="411.60" y1="466.07" x2="415.20" y2="466.07" stroke="#000" stroke-width="1.35"/>
<text x="410.15" y="466.47" font-size="5.5" text-anchor="end">4</text>
<text x="406.79" y="469.37" font-size="8.2" text-anchor="end">10</text>
<line x1="411.60" y1="440.10" x2="415.20" y2="440.10" stroke="#000" stroke-width="1.35"/>
<text x="410.15" y="440.48" font-size="5.5" text-anchor="end">6</text>
<text x="406.79" y="443.38" font-size="8.2" text-anchor="end">10</text>
<line x1="411.60" y1="414.13" x2="415.20" y2="414.13" stroke="#000" stroke-width="1.35"/>
<text x="410.15" y="414.48" font-size="5.5" text-anchor="end">8</text>
<text x="406.79" y="417.38" font-size="8.2" text-anchor="end">10</text>
<line x1="411.60" y1="388.17" x2="415.20" y2="388.17" stroke="#000" stroke-width="1.35"/>
<text x="410.15" y="388.49" font-size="5.5" text-anchor="end">10</text>
<text x="403.73" y="391.39" font-size="8.2" text-anchor="end">10</text>
<line x1="411.60" y1="362.20" x2="415.20" y2="362.20" stroke="#000" stroke-width="1.35"/>
<text x="410.15" y="362.50" font-size="5.5" text-anchor="end">12</text>
<text x="403.73" y="365.40" font-size="8.2" text-anchor="end">10</text>
<line x1="428.00" y1="518.00" x2="428.00" y2="521.60" stroke="#000" stroke-width="1.35"/>
<line x1="454.80" y1="518.00" x2="454.80" y2="521.60" stroke="#000" stroke-width="1.35"/>
<line x1="481.60" y1="518.00" x2="481.60" y2="521.60" stroke="#000" stroke-width="1.35"/>
<line x1="508.40" y1="518.00" x2="508.40" y2="521.60" stroke="#000" stroke-width="1.35"/>
<line x1="535.20" y1="518.00" x2="535.20" y2="521.60" stroke="#000" stroke-width="1.35"/>
<line x1="562.00" y1="518.00" x2="562.00" y2="521.60" stroke="#000" stroke-width="1.35"/>
<line x1="588.80" y1="518.00" x2="588.80" y2="521.60" stroke="#000" stroke-width="1.35"/>
<line x1="615.60" y1="518.00" x2="615.60" y2="521.60" stroke="#000" stroke-width="1.35"/>
<line x1="642.40" y1="518.00" x2="642.40" y2="521.60" stroke="#000" stroke-width="1.35"/>
<line x1="669.20" y1="518.00" x2="669.20" y2="521.60" stroke="#000" stroke-width="1.35"/>
<text transform="translate(384.80,442.00) rotate(-90)" x="0" y="0" font-size="10.75" text-anchor="middle">Genome Equivalents/g of tissue</text>
<text transform="translate(431.00,529.00) rotate(-45)" x="0" y="0" font-size="9.7" text-anchor="end">Conjunctiva</text>
<text transform="translate(457.80,529.00) rotate(-45)" x="0" y="0" font-size="9.7" text-anchor="end">Salivary gland</text>
<text transform="translate(484.60,529.00) rotate(-45)" x="0" y="0" font-size="9.7" text-anchor="end">Liver</text>
<text transform="translate(511.40,529.00) rotate(-45)" x="0" y="0" font-size="9.7" text-anchor="end">Adrenal gland</text>
<text transform="translate(538.20,529.00) rotate(-45)" x="0" y="0" font-size="9.7" text-anchor="end">Kidney</text>
<text transform="translate(565.00,529.00) rotate(-45)" x="0" y="0" font-size="9.7" text-anchor="end">Pancreas</text>
<text transform="translate(591.80,529.00) rotate(-45)" x="0" y="0" font-size="9.7" text-anchor="end">Urinary bladder</text>
<text transform="translate(618.60,529.00) rotate(-45)" x="0" y="0" font-size="9.7" text-anchor="end">Jejunum</text>
<text transform="translate(645.40,529.00) rotate(-45)" x="0" y="0" font-size="9.7" text-anchor="end">Colon transversum</text>
<text transform="translate(672.20,529.00) rotate(-45)" x="0" y="0" font-size="9.7" text-anchor="end">Gonad</text>
<line x1="423.57" y1="436.10" x2="423.57" y2="440.30" stroke="#1a1a1a" stroke-width="0.8"/>
<line x1="422.47" y1="436.10" x2="424.68" y2="436.10" stroke="#1a1a1a" stroke-width="0.8"/>
<rect x="422.45" y="440.65" width="2.25" height="77.35" fill="#b0807a" stroke="#1a1a1a" stroke-width="0.7"/>
<rect x="422.15" y="440.00" width="2.85" height="1.20" rx="1.43" ry="0.60" fill="#1a1a1a"/>
<rect x="425.40" y="439.75" width="2.25" height="78.25" fill="#d8c8c0" stroke="#1a1a1a" stroke-width="0.7"/>
<rect x="425.10" y="439.10" width="2.85" height="1.20" rx="1.43" ry="0.60" fill="#1a1a1a"/>
<rect x="434.25" y="420.85" width="2.25" height="97.15" fill="#7c7aac" stroke="#1a1a1a" stroke-width="0.7"/>
<rect x="433.95" y="420.20" width="2.85" height="1.20" rx="1.43" ry="0.60" fill="#1a1a1a"/>
<rect x="437.20" y="410.85" width="2.25" height="107.15" fill="#7a84a8" stroke="#1a1a1a" stroke-width="0.7"/>
<rect x="436.90" y="410.20" width="2.85" height="1.20" rx="1.43" ry="0.60" fill="#1a1a1a"/>
<rect x="449.25" y="435.85" width="2.25" height="82.15" fill="#b0807a" stroke="#1a1a1a" stroke-width="0.7"/>
<rect x="448.95" y="435.20" width="2.85" height="1.20" rx="1.43" ry="0.60" fill="#1a1a1a"/>
<rect x="452.20" y="434.85" width="2.25" height="83.15" fill="#d8c8c0" stroke="#1a1a1a" stroke-width="0.7"/>
<rect x="451.90" y="434.20" width="2.85" height="1.20" rx="1.43" ry="0.60" fill="#1a1a1a"/>
<rect x="461.05" y="410.85" width="2.25" height="107.15" fill="#554a7a" stroke="#1a1a1a" stroke-width="0.7"/>
<rect x="460.75" y="410.20" width="2.85" height="1.20" rx="1.43" ry="0.60" fill="#1a1a1a"/>
<rect x="464.00" y="406.45" width="2.25" height="111.55" fill="#7a84a8" stroke="#1a1a1a" stroke-width="0.7"/>
<rect x="463.70" y="405.80" width="2.85" height="1.20" rx="1.43" ry="0.60" fill="#1a1a1a"/>
<line x1="474.23" y1="438.70" x2="474.23" y2="440.80" stroke="#1a1a1a" stroke-width="0.8"/>
<line x1="473.12" y1="438.70" x2="475.33" y2="438.70" stroke="#1a1a1a" stroke-width="0.8"/>
<rect x="473.10" y="441.15" width="2.25" height="76.85" fill="#8c3228" stroke="#1a1a1a" stroke-width="0.7"/>
<rect x="472.80" y="440.50" width="2.85" height="1.20" rx="1.43" ry="0.60" fill="#1a1a1a"/>
<rect x="479.00" y="419.75" width="2.25" height="98.25" fill="#d8c8c0" stroke="#1a1a1a" stroke-width="0.7"/>
<rect x="478.70" y="419.10" width="2.85" height="1.20" rx="1.43" ry="0.60" fill="#1a1a1a"/>
<rect x="481.95" y="383.05" width="2.25" height="134.95" fill="#5a566a" stroke="#1a1a1a" stroke-width="0.7"/>
<rect x="481.65" y="382.40" width="2.85" height="1.20" rx="1.43" ry="0.60" fill="#1a1a1a"/>
<rect x="484.90" y="392.65" width="2.25" height="125.35" fill="#3a385a" stroke="#1a1a1a" stroke-width="0.7"/>
<rect x="484.60" y="392.00" width="2.85" height="1.20" rx="1.43" ry="0.60" fill="#1a1a1a"/>
<rect x="487.85" y="383.05" width="2.25" height="134.95" fill="#554a7a" stroke="#1a1a1a" stroke-width="0.7"/>
<rect x="487.55" y="382.40" width="2.85" height="1.20" rx="1.43" ry="0.60" fill="#1a1a1a"/>
<rect x="490.80" y="382.15" width="2.25" height="135.85" fill="#7a84a8" stroke="#1a1a1a" stroke-width="0.7"/>
<rect x="490.50" y="381.50" width="2.85" height="1.20" rx="1.43" ry="0.60" fill="#1a1a1a"/>
<line x1="498.07" y1="448.70" x2="498.07" y2="452.20" stroke="#1a1a1a" stroke-width="0.8"/>
<line x1="496.97" y1="448.70" x2="499.18" y2="448.70" stroke="#1a1a1a" stroke-width="0.8"/>
<rect x="496.95" y="452.55" width="2.25" height="65.45" fill="#5a4038" stroke="#1a1a1a" stroke-width="0.7"/>
<rect x="496.65" y="451.90" width="2.85" height="1.20" rx="1.43" ry="0.60" fill="#1a1a1a"/>
<rect x="502.85" y="418.35" width="2.25" height="99.65" fill="#b0807a" stroke="#1a1a1a" stroke-width="0.7"/>
<rect x="502.55" y="417.70" width="2.85" height="1.20" rx="1.43" ry="0.60" fill="#1a1a1a"/>
<rect x="505.80" y="421.55" width="2.25" height="96.45" fill="#d8c8c0" stroke="#1a1a1a" stroke-width="0.7"/>
<rect x="505.50" y="420.90" width="2.85" height="1.20" rx="1.43" ry="0.60" fill="#1a1a1a"/>
<rect x="508.75" y="392.95" width="2.25" height="125.05" fill="#5a566a" stroke="#1a1a1a" stroke-width="0.7"/>
<rect x="508.45" y="392.30" width="2.85" height="1.20" rx="1.43" ry="0.60" fill="#1a1a1a"/>
<rect x="511.70" y="399.65" width="2.25" height="118.35" fill="#3a385a" stroke="#1a1a1a" stroke-width="0.7"/>
<rect x="511.40" y="399.00" width="2.85" height="1.20" rx="1.43" ry="0.60" fill="#1a1a1a"/>
<rect x="514.65" y="393.55" width="2.25" height="124.45" fill="#554a7a" stroke="#1a1a1a" stroke-width="0.7"/>
<rect x="514.35" y="392.90" width="2.85" height="1.20" rx="1.43" ry="0.60" fill="#1a1a1a"/>
<rect x="517.60" y="399.65" width="2.25" height="118.35" fill="#7a84a8" stroke="#1a1a1a" stroke-width="0.7"/>
<rect x="517.30" y="399.00" width="2.85" height="1.20" rx="1.43" ry="0.60" fill="#1a1a1a"/>
<rect x="523.75" y="431.15" width="2.25" height="86.85" fill="#5a4038" stroke="#1a1a1a" stroke-width="0.7"/>
<rect x="523.45" y="430.50" width="2.85" height="1.20" rx="1.43" ry="0.60" fill="#1a1a1a"/>
<rect x="526.70" y="416.95" width="2.25" height="101.05" fill="#8c3228" stroke="#1a1a1a" stroke-width="0.7"/>
<rect x="526.40" y="416.30" width="2.85" height="1.20" rx="1.43" ry="0.60" fill="#1a1a1a"/>
<rect x="529.65" y="402.95" width="2.25" height="115.05" fill="#b0807a" stroke="#1a1a1a" stroke-width="0.7"/>
<rect x="529.35" y="402.30" width="2.85" height="1.20" rx="1.43" ry="0.60" fill="#1a1a1a"/>
<rect x="532.60" y="400.55" width="2.25" height="117.45" fill="#d8c8c0" stroke="#1a1a1a" stroke-width="0.7"/>
<rect x="532.30" y="399.90" width="2.85" height="1.20" rx="1.43" ry="0.60" fill="#1a1a1a"/>
<rect x="535.55" y="387.35" width="2.25" height="130.65" fill="#5a566a" stroke="#1a1a1a" stroke-width="0.7"/>
<rect x="535.25" y="386.70" width="2.85" height="1.20" rx="1.43" ry="0.60" fill="#1a1a1a"/>
<rect x="538.50" y="401.35" width="2.25" height="116.65" fill="#3a385a" stroke="#1a1a1a" stroke-width="0.7"/>
<rect x="538.20" y="400.70" width="2.85" height="1.20" rx="1.43" ry="0.60" fill="#1a1a1a"/>
<rect x="541.45" y="392.65" width="2.25" height="125.35" fill="#554a7a" stroke="#1a1a1a" stroke-width="0.7"/>
<rect x="541.15" y="392.00" width="2.85" height="1.20" rx="1.43" ry="0.60" fill="#1a1a1a"/>
<rect x="544.40" y="396.45" width="2.25" height="121.55" fill="#7a84a8" stroke="#1a1a1a" stroke-width="0.7"/>
<rect x="544.10" y="395.80" width="2.85" height="1.20" rx="1.43" ry="0.60" fill="#1a1a1a"/>
<rect x="556.45" y="414.75" width="2.25" height="103.25" fill="#b0807a" stroke="#1a1a1a" stroke-width="0.7"/>
<rect x="556.15" y="414.10" width="2.85" height="1.20" rx="1.43" ry="0.60" fill="#1a1a1a"/>
<rect x="559.40" y="419.05" width="2.25" height="98.95" fill="#d8c8c0" stroke="#1a1a1a" stroke-width="0.7"/>
<rect x="559.10" y="418.40" width="2.85" height="1.20" rx="1.43" ry="0.60" fill="#1a1a1a"/>
<rect x="562.35" y="401.45" width="2.25" height="116.55" fill="#5a566a" stroke="#1a1a1a" stroke-width="0.7"/>
<rect x="562.05" y="400.80" width="2.85" height="1.20" rx="1.43" ry="0.60" fill="#1a1a1a"/>
<rect x="565.30" y="398.35" width="2.25" height="119.65" fill="#3a385a" stroke="#1a1a1a" stroke-width="0.7"/>
<rect x="565.00" y="397.70" width="2.85" height="1.20" rx="1.43" ry="0.60" fill="#1a1a1a"/>
<rect x="568.25" y="403.05" width="2.25" height="114.95" fill="#554a7a" stroke="#1a1a1a" stroke-width="0.7"/>
<rect x="567.95" y="402.40" width="2.85" height="1.20" rx="1.43" ry="0.60" fill="#1a1a1a"/>
<rect x="577.35" y="430.35" width="2.25" height="87.65" fill="#5a4038" stroke="#1a1a1a" stroke-width="0.7"/>
<rect x="577.05" y="429.70" width="2.85" height="1.20" rx="1.43" ry="0.60" fill="#1a1a1a"/>
<line x1="581.43" y1="446.00" x2="581.43" y2="449.30" stroke="#1a1a1a" stroke-width="0.8"/>
<line x1="580.33" y1="446.00" x2="582.53" y2="446.00" stroke="#1a1a1a" stroke-width="0.8"/>
<rect x="580.30" y="449.65" width="2.25" height="68.35" fill="#8c3228" stroke="#1a1a1a" stroke-width="0.7"/>
<rect x="580.00" y="449.00" width="2.85" height="1.20" rx="1.43" ry="0.60" fill="#1a1a1a"/>
<rect x="583.25" y="421.45" width="2.25" height="96.55" fill="#b0807a" stroke="#1a1a1a" stroke-width="0.7"/>
<rect x="582.95" y="420.80" width="2.85" height="1.20" rx="1.43" ry="0.60" fill="#1a1a1a"/>
<line x1="587.33" y1="426.00" x2="587.33" y2="428.00" stroke="#1a1a1a" stroke-width="0.8"/>
<line x1="586.23" y1="426.00" x2="588.43" y2="426.00" stroke="#1a1a1a" stroke-width="0.8"/>
<rect x="586.20" y="428.35" width="2.25" height="89.65" fill="#d8c8c0" stroke="#1a1a1a" stroke-width="0.7"/>
<rect x="585.90" y="427.70" width="2.85" height="1.20" rx="1.43" ry="0.60" fill="#1a1a1a"/>
<rect x="589.15" y="398.35" width="2.25" height="119.65" fill="#5a566a" stroke="#1a1a1a" stroke-width="0.7"/>
<rect x="588.85" y="397.70" width="2.85" height="1.20" rx="1.43" ry="0.60" fill="#1a1a1a"/>
<rect x="592.10" y="405.05" width="2.25" height="112.95" fill="#3a385a" stroke="#1a1a1a" stroke-width="0.7"/>
<rect x="591.80" y="404.40" width="2.85" height="1.20" rx="1.43" ry="0.60" fill="#1a1a1a"/>
<rect x="595.05" y="408.35" width="2.25" height="109.65" fill="#554a7a" stroke="#1a1a1a" stroke-width="0.7"/>
<rect x="594.75" y="407.70" width="2.85" height="1.20" rx="1.43" ry="0.60" fill="#1a1a1a"/>
<rect x="610.05" y="433.15" width="2.25" height="84.85" fill="#b0807a" stroke="#1a1a1a" stroke-width="0.7"/>
<rect x="609.75" y="432.50" width="2.85" height="1.20" rx="1.43" ry="0.60" fill="#1a1a1a"/>
<rect x="613.00" y="450.55" width="2.25" height="67.45" fill="#d8c8c0" stroke="#1a1a1a" stroke-width="0.7"/>
<rect x="612.70" y="449.90" width="2.85" height="1.20" rx="1.43" ry="0.60" fill="#1a1a1a"/>
<rect x="621.85" y="413.95" width="2.25" height="104.05" fill="#554a7a" stroke="#1a1a1a" stroke-width="0.7"/>
<rect x="621.55" y="413.30" width="2.85" height="1.20" rx="1.43" ry="0.60" fill="#1a1a1a"/>
<line x1="640.93" y1="454.60" x2="640.93" y2="458.50" stroke="#1a1a1a" stroke-width="0.8"/>
<line x1="639.83" y1="454.60" x2="642.03" y2="454.60" stroke="#1a1a1a" stroke-width="0.8"/>
<rect x="639.80" y="458.85" width="2.25" height="59.15" fill="#d8c8c0" stroke="#1a1a1a" stroke-width="0.7"/>
<rect x="639.50" y="458.20" width="2.85" height="1.20" rx="1.43" ry="0.60" fill="#1a1a1a"/>
<rect x="648.65" y="423.85" width="2.25" height="94.15" fill="#554a7a" stroke="#1a1a1a" stroke-width="0.7"/>
<rect x="648.35" y="423.20" width="2.85" height="1.20" rx="1.43" ry="0.60" fill="#1a1a1a"/>
<rect x="672.50" y="406.95" width="2.25" height="111.05" fill="#3a385a" stroke="#1a1a1a" stroke-width="0.7"/>
<rect x="672.20" y="406.30" width="2.85" height="1.20" rx="1.43" ry="0.60" fill="#1a1a1a"/>
<rect x="675.45" y="414.85" width="2.25" height="103.15" fill="#554a7a" stroke="#1a1a1a" stroke-width="0.7"/>
<rect x="675.15" y="414.20" width="2.85" height="1.20" rx="1.43" ry="0.60" fill="#1a1a1a"/>
<rect x="597.95" y="398.0" width="2.4" height="120.00" fill="#a9bde6"/>
<rect x="528.30" y="367.85" width="5.00" height="1.30" fill="#000"/>
<rect x="530.15" y="366.05" width="1.30" height="4.90" fill="#000"/>
<rect x="534.50" y="367.85" width="5.00" height="1.30" fill="#000"/>
<rect x="536.35" y="366.05" width="1.30" height="4.90" fill="#000"/>
<rect x="540.90" y="367.85" width="5.00" height="1.30" fill="#000"/>
<rect x="542.75" y="366.05" width="1.30" height="4.90" fill="#000"/>
<rect x="617.4" y="268.30" width="13.2" height="6.6" fill="#9b5b4b" stroke="#222" stroke-width="0.9"/>
<text x="633.90" y="274.50" font-size="9.8" text-anchor="start" >O7912 (M)</text>
<rect x="617.4" y="280.16" width="13.2" height="6.6" fill="#d42a26" stroke="#222" stroke-width="0.9"/>
<text x="633.90" y="286.36" font-size="9.8" text-anchor="start" >O7935 (M)</text>
<rect x="617.4" y="292.02" width="13.2" height="6.6" fill="#ec9078" stroke="#222" stroke-width="0.9"/>
<text x="633.90" y="298.22" font-size="9.8" text-anchor="start" >O8000 (M)</text>
<rect x="617.4" y="303.88" width="13.2" height="6.6" fill="#f7d9cc" stroke="#222" stroke-width="0.9"/>
<text x="633.90" y="310.08" font-size="9.8" text-anchor="start" >O8023 (M)</text>
<rect x="617.4" y="315.74" width="13.2" height="6.6" fill="#4b4a6e" stroke="#222" stroke-width="0.9"/>
<text x="633.90" y="321.94" font-size="9.8" text-anchor="start" >O8021 (B)</text>
<rect x="617.4" y="327.60" width="13.2" height="6.6" fill="#39357f" stroke="#222" stroke-width="0.9"/>
<text x="633.90" y="333.80" font-size="9.8" text-anchor="start" >O7936 (B)</text>
<rect x="617.4" y="339.46" width="13.2" height="6.6" fill="#6a5cad" stroke="#222" stroke-width="0.9"/>
<text x="633.90" y="345.66" font-size="9.8" text-anchor="start" >O8022 (B)</text>
<rect x="617.4" y="351.32" width="13.2" height="6.6" fill="#8ca6da" stroke="#222" stroke-width="0.9"/>
<text x="633.90" y="357.52" font-size="9.8" text-anchor="start" >O8046 (B)</text>
</svg></body></html>
